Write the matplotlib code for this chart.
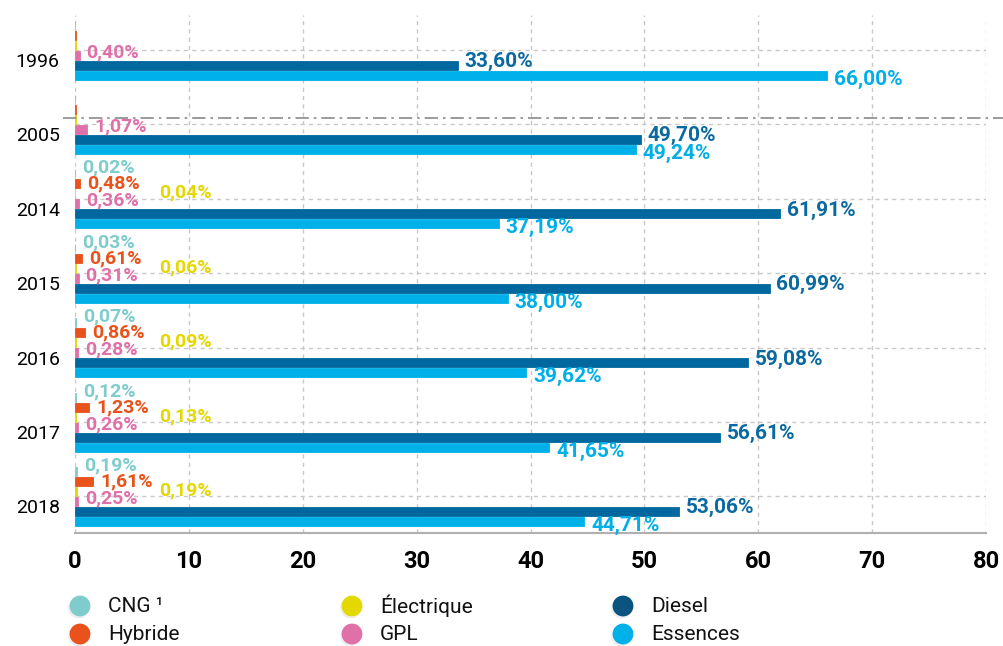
import matplotlib
matplotlib.use("Agg")
import matplotlib.pyplot as plt
from matplotlib.lines import Line2D
import matplotlib.patheffects as pe

plt.rcParams['font.family'] = ['Roboto', 'DejaVu Sans']

years = ['1996', '2005', '2014', '2015', '2016', '2017', '2018']
series = ['CNG', 'Hybride', 'Électrique', 'GPL', 'Diesel', 'Essences']
legend_names = ['CNG ¹', 'Hybride', 'Électrique', 'GPL', 'Diesel', 'Essences']

cng = [0.0, 0.0, 0.02, 0.03, 0.07, 0.12, 0.19]
hybride = [0.1, 0.1, 0.48, 0.61, 0.86, 1.23, 1.61]
electrique = [0.1, 0.1, 0.04, 0.06, 0.09, 0.13, 0.19]
gpl = [0.40, 1.07, 0.36, 0.31, 0.28, 0.26, 0.25]
diesel = [33.60, 49.70, 61.91, 60.99, 59.08, 56.61, 53.06]
essences = [66.00, 49.24, 37.19, 38.00, 39.62, 41.65, 44.71]

# which values get a printed label (1996/2005 minor fuels are not labelled)
labelled = [
    [False, False, True, True, True, True, True],
    [False, False, True, True, True, True, True],
    [False, False, True, True, True, True, True],
    [True] * 7,
    [True] * 7,
    [True] * 7,
]

values = [cng, hybride, electrique, gpl, diesel, essences]
colors = ['#80cccc', '#e9521b', '#e3d800', '#e070a8', '#00689e', '#00b1e9']
label_colors = ['#80cccc', '#e9521b', '#e3d800', '#e070a8', '#0a6aa0', '#00aee8']
legend_colors = ['#80cccc', '#e9521b', '#e3d800', '#e070a8', '#0b5480', '#00b1e9']
label_dy = [-0.6, 0.0, -0.1, -0.3, -0.35, 0.4]
label_size = [14, 14, 14, 14, 15, 15]

fig = plt.figure(figsize=(10.04, 6.46), dpi=100)
ax = fig.add_axes([75 / 1004, 1 - 533 / 646, 911 / 1004, 518 / 646])

group_gap = 7.44
centers = [5.0 + i * group_gap for i in range(len(years))]

for k, (vals, col) in enumerate(zip(values, colors)):
    ys = [c + (k - 2.5) for c in centers]
    ax.barh(ys, vals, height=0.9, color=col, edgecolor=col, linewidth=0.6, zorder=3)
    for i, (y, v) in enumerate(zip(ys, vals)):
        if not labelled[k][i]:
            continue
        txt = f"{v:.2f}%".replace('.', ',')
        if series[k] == 'Électrique':
            ax.text(7.4, y + label_dy[k], txt, color=label_colors[k], fontsize=label_size[k],
                    fontweight='bold', va='center', ha='left', zorder=4)
        else:
            ax.annotate(txt, (v, y + label_dy[k]), xytext=(5, 0), textcoords='offset points',
                        color=label_colors[k], fontsize=label_size[k], fontweight='bold',
                        va='center', ha='left', zorder=4)

ax.set_xlim(0, 80)
ax.set_ylim(53.3, 1.5)
ax.set_xticks(range(0, 81, 10))
ax.set_xticklabels([str(t) for t in range(0, 81, 10)], fontsize=17, fontweight='bold')
ax.set_yticks([c + 1 for c in centers])
ax.set_yticklabels(years, fontsize=14)
ax.tick_params(axis='both', length=0)
ax.tick_params(axis='x', pad=12)
ax.tick_params(axis='y', pad=11)

for x in range(0, 81, 10):
    ax.axvline(x, color='#c8c8c8', lw=1, ls=(0, (3, 3)), zorder=1)
for c in centers:
    ax.axhline(c, color='#c8c8c8', lw=1, ls=(0, (3, 3)), zorder=1)

# separator between 1996 and the later years
sep_y = centers[1] - 0.65
ax.plot([-0.013, 1.03], [sep_y, sep_y], transform=ax.get_yaxis_transform(),
        color='#8a8a8a', lw=1.2, ls=(0, (8, 3, 1.5, 3)), clip_on=False, zorder=5)

for s in ['top', 'right', 'left']:
    ax.spines[s].set_visible(False)
ax.spines['bottom'].set_color('#b0b0b0')
ax.spines['bottom'].set_linewidth(1.5)

# legend: three columns of two, placed by hand
col_x = [80, 352, 623]
row_y = [606, 634]
for k, name in enumerate(legend_names):
    cx = col_x[k // 2] / 1004
    cy = 1 - row_y[k % 2] / 646
    fig.add_artist(Line2D([cx], [cy], marker='o', ls='none', markersize=15,
                          markerfacecolor=legend_colors[k], markeredgecolor='none',
                          transform=fig.transFigure,
                          path_effects=[pe.SimplePatchShadow(offset=(-1, -1.5), alpha=0.12,
                                                             shadow_rgbFace='#777777'),
                                        pe.Normal()]))
    fig.text(cx + 28 / 1004, cy, name, fontsize=15, va='center', ha='left', color='#111111')

fig.savefig('out.png', dpi=100)
